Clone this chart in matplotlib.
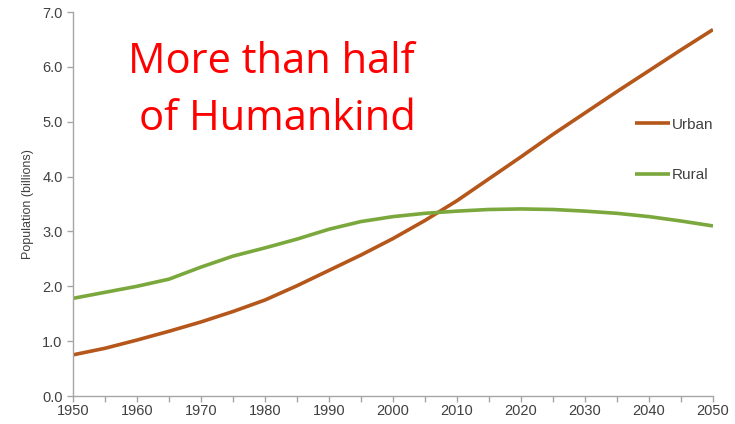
import matplotlib
matplotlib.use("Agg")
import matplotlib.pyplot as plt
import numpy as np

years = [1950, 1955, 1960, 1965, 1970, 1975, 1980, 1985, 1990, 1995, 2000,
         2005, 2010, 2015, 2020, 2025, 2030, 2035, 2040, 2045, 2050]
urban = [0.75, 0.87, 1.02, 1.18, 1.35, 1.54, 1.75, 2.01, 2.29, 2.57, 2.87,
         3.20, 3.56, 3.96, 4.36, 4.77, 5.16, 5.55, 5.93, 6.31, 6.68]
rural = [1.78, 1.89, 2.00, 2.13, 2.35, 2.55, 2.70, 2.86, 3.04, 3.18, 3.27,
         3.33, 3.37, 3.40, 3.41, 3.40, 3.37, 3.33, 3.27, 3.19, 3.10]
xticks = np.arange(1950, 2051, 10)
yticks = np.arange(0, 7.01, 1.0)

URBAN_COLOR = '#B5561A'
RURAL_COLOR = '#7BA83D'
GRAY = '#A6A6A6'
TEXT = '#404040'
FONT = 'Liberation Sans'

fig = plt.figure(figsize=(7.35, 4.24), dpi=100)
ax = fig.add_axes([73/735, 1-396/424, 640/735, 384/424])

ax.plot(years, urban, color=URBAN_COLOR, linewidth=2.6, label='Urban',
        solid_capstyle='butt')
ax.plot(years, rural, color=RURAL_COLOR, linewidth=2.6, label='Rural',
        solid_capstyle='butt')

ax.set_xlim(1950, 2050)
ax.set_ylim(0, 7)
ax.set_xticks(xticks)
ax.set_xticks(np.arange(1955, 2050, 10), minor=True)
ax.set_xticklabels([str(x) for x in xticks], fontsize=10.5, color=TEXT, family=FONT)
ax.set_yticks(yticks)
ax.set_yticklabels(['%.1f' % y for y in yticks], fontsize=10.5, color=TEXT, family=FONT)
ax.tick_params(axis='both', which='both', direction='out', color=GRAY,
               length=4, width=1)
ax.tick_params(axis='x', pad=2)
ax.set_ylabel('Population (billions)', fontsize=9, color=TEXT, family=FONT,
              labelpad=6)

for side in ['top', 'right']:
  ax.spines[side].set_visible(False)
for side in ['left', 'bottom']:
  ax.spines[side].set_color(GRAY)
  ax.spines[side].set_linewidth(1)

leg = ax.legend(loc='upper left', bbox_to_anchor=(0.878, 0.725), frameon=False,
                prop={'family': FONT, 'size': 11}, handlelength=2.3,
                handletextpad=0.1, labelspacing=2.4, borderpad=0,
                borderaxespad=0)
for t in leg.get_texts():
  t.set_color(TEXT)

fig.text(271/735, 1-73/424, 'More than half', color='#FF0000', fontsize=30,
         family='Open Sans', ha='center', va='baseline')
fig.text(277/735, 1-130/424, 'of Humankind', color='#FF0000', fontsize=30,
         family='Open Sans', ha='center', va='baseline')

plt.savefig('out.png', dpi=100)
